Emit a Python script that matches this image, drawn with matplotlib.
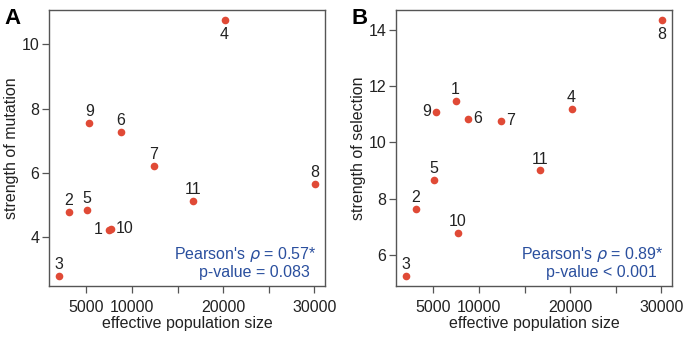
import matplotlib
matplotlib.use('Agg')
import matplotlib.pyplot as plt

plt.rcParams['font.family'] = ['Liberation Sans', 'DejaVu Sans']

ids = ['1', '2', '3', '4', '5', '6', '7', '8', '9', '10', '11']
pop_size = [7440, 3060, 2040, 20150, 5030, 8800, 12410, 30040, 5330, 7660, 16720]
mutation = [4.23, 4.80, 2.81, 10.75, 4.86, 7.27, 6.23, 5.66, 7.54, 4.27, 5.14]
selection = [11.47, 7.64, 5.25, 11.18, 8.65, 10.84, 10.78, 14.36, 11.09, 6.78, 9.00]

# label placement: a=above, b=below, l=left, r=right
pos_a = ['l', 'a', 'a', 'b', 'a', 'a', 'a', 'a', 'a', 'r', 'a']
pos_b = ['a', 'a', 'a', 'a', 'a', 'r', 'r', 'b', 'l', 'a', 'a']

x_ticks = [5000, 10000, 15000, 20000, 25000, 30000]
x_labels = ['5000', '10000', '', '20000', '', '30000']

dot = '#e04a36'
blue = '#2a4f9e'
frame = '#555555'
fs = 11.5

offsets = {'a': (0, 5, 'center', 'baseline'), 'b': (0, -5, 'center', 'top'),
           'l': (-4, 0, 'right', 'center'), 'r': (4, 0, 'left', 'center')}

fig = plt.figure(figsize=(6.96, 3.38), dpi=100)
axA = fig.add_axes([0.0704, 0.154, 0.3966, 0.817])
axB = fig.add_axes([0.569, 0.154, 0.3966, 0.817])

panels = [(axA, mutation, pos_a, 'strength of mutation', [4, 6, 8, 10], "0.57", "p-value = 0.083", 'A'),
          (axB, selection, pos_b, 'strength of selection', [6, 8, 10, 12, 14], "0.89", "p-value < 0.001", 'B')]

for ax, yv, pos, ylab, yt, rho, pval, letter in panels:
    ax.plot(pop_size, yv, 'o', color=dot, markersize=5.5, markeredgewidth=0)
    for i, lab in enumerate(ids):
        dx, dy, ha, va = offsets[pos[i]]
        ax.annotate(lab, (pop_size[i], yv[i]), xytext=(dx, dy), textcoords='offset points',
                    ha=ha, va=va, fontsize=fs, color='#222222')
    rng = max(pop_size) - min(pop_size)
    ax.set_xlim(min(pop_size) - 0.04 * rng, max(pop_size) + 0.04 * rng)
    yr = max(yv) - min(yv)
    ax.set_ylim(min(yv) - 0.04 * yr, max(yv) + 0.04 * yr)
    ax.set_xticks(x_ticks)
    ax.set_xticklabels(x_labels)
    ax.set_yticks(yt)
    ax.tick_params(direction='out', length=5, width=0.9, color=frame, labelsize=fs,
                   labelcolor='#222222', pad=2)
    ax.tick_params(axis='x', pad=5)
    for s in ax.spines.values():
        s.set_color(frame)
        s.set_linewidth(1.0)
    ax.set_xlabel('effective population size', fontsize=fs, color='#222222', labelpad=1)
    ax.set_ylabel(ylab, fontsize=fs, color='#222222', labelpad=2)
    ax.text(0.97, 0.115, "Pearson's $\\rho$ = " + rho + "*", transform=ax.transAxes,
            ha='right', va='center', color=blue, fontsize=fs)
    ax.text(0.946, 0.05, pval, transform=ax.transAxes,
            ha='right', va='center', color=blue, fontsize=fs)
    ax.text(-0.16, 0.97, letter, transform=ax.transAxes, ha='left', va='center',
            fontsize=16, fontweight='bold')

fig.savefig('out.png', dpi=100)
